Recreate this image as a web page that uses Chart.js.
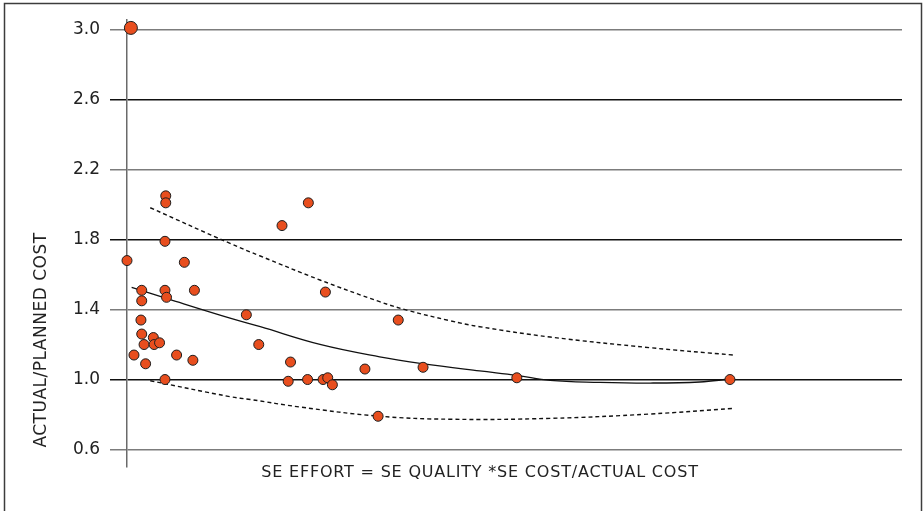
<!DOCTYPE html>
<html>
<head>
<meta charset="utf-8">
<script src="https://cdn.jsdelivr.net/npm/chart.js@4/dist/chart.umd.min.js"></script>
<style>
  html, body { margin: 0; padding: 0; background: #ffffff; }
  #wrap { position: relative; width: 923px; height: 511px; }
</style>
</head>
<body>
<div id="wrap"><canvas id="chart"></canvas></div>
<script>
// SE effort (relative units) and actual/planned cost ratio for each programme
const effortX = [0.5, 5.0, 5.0, 4.9, 0.0, 7.4, 1.9, 4.9, 8.7, 1.9, 5.1, 1.8, 1.9, 3.4, 2.2, 3.5, 4.2,
  0.9, 6.4, 8.5, 2.4, 4.9, 15.4, 17.0, 20.0, 23.4, 25.6, 21.1, 20.8, 23.3, 25.3, 25.9, 26.5,
  30.7, 35.0, 38.2, 50.3, 32.4, 77.8];
const costRatio = [3.01, 2.05, 2.01, 1.79, 1.68, 1.67, 1.51, 1.51, 1.51, 1.45, 1.47, 1.34, 1.26, 1.24, 1.20, 1.20, 1.21,
  1.14, 1.14, 1.11, 1.09, 1.00, 1.37, 1.20, 1.88, 2.01, 1.50, 1.10, 0.99, 1.00, 1.00, 1.01, 0.97,
  1.06, 1.34, 1.07, 1.01, 0.79, 1.00];

// Trend curve and its upper / lower bounds
const fitX = [0.6, 5.5, 13.3, 17.2, 24.9, 32.6, 38.1, 45.5, 50.3, 54.6, 61.0, 67.5, 73.9, 77.8];
const fitY = [1.527, 1.458, 1.351, 1.302, 1.201, 1.130, 1.091, 1.049, 1.024, 0.995, 0.984, 0.980, 0.986, 1.003];
const upperX = [3.0, 13.3, 17.2, 24.9, 32.6, 36.1, 41.7, 45.5, 54.6, 67.5, 78.2];
const upperY = [1.982, 1.778, 1.706, 1.569, 1.445, 1.397, 1.336, 1.302, 1.243, 1.182, 1.140];
const lowerX = [3.0, 13.3, 15.9, 22.3, 32.4, 41.7, 54.6, 67.5, 78.2];
const lowerY = [0.993, 0.902, 0.886, 0.843, 0.791, 0.773, 0.778, 0.803, 0.835];

// Y axis tick values
const yTicks = [0.6, 1.0, 1.4, 1.8, 2.2, 2.6, 3.0];

const yTitle = 'ACTUAL/PLANNED COST';
const xTitle = 'SE EFFORT = SE QUALITY *SE COST/ACTUAL COST';

const toXY = (xs, ys) => xs.map((x, i) => ({ x: x, y: ys[i] }));

const FONT = '"DejaVu Sans", sans-serif';

// Outer frame and the two axis titles
const framePlugin = {
  id: 'frameAndTitles',
  beforeDraw(chart) {
    const ctx = chart.ctx;
    ctx.save();
    ctx.fillStyle = '#ffffff';
    ctx.fillRect(0, 0, chart.width, chart.height);
    ctx.strokeStyle = '#3c3c3c';
    ctx.lineWidth = 1.5;
    ctx.strokeRect(4.5, 3.5, 917, 530);
    ctx.restore();
  },
  afterDraw(chart) {
    const ctx = chart.ctx;
    ctx.save();
    ctx.fillStyle = '#222222';
    ctx.textAlign = 'center';
    ctx.textBaseline = 'middle';
    ctx.font = '16px ' + FONT;
    if ('letterSpacing' in ctx) ctx.letterSpacing = '0.8px';
    ctx.fillText(xTitle, 480, 473);
    ctx.translate(42, 340);
    ctx.rotate(-Math.PI / 2);
    ctx.font = '17px ' + FONT;
    if ('letterSpacing' in ctx) ctx.letterSpacing = '0.5px';
    ctx.fillText(yTitle, 0, 0);
    ctx.restore();
  }
};

new Chart(document.getElementById('chart'), {
  type: 'scatter',
  data: {
    datasets: [
      {
        label: 'Programmes',
        data: toXY(effortX, costRatio),
        backgroundColor: '#e84e1e',
        borderColor: '#1e1e1e',
        borderWidth: 1,
        pointRadius: (c) => (c.dataIndex === 0 ? 6.5 : 5),
        pointHoverRadius: 5,
        clip: false,
        order: 0
      },
      {
        label: 'Trend',
        data: toXY(fitX, fitY),
        showLine: true,
        borderColor: '#111111',
        borderWidth: 1.3,
        pointRadius: 0,
        tension: 0.4,
        order: 1
      },
      {
        label: 'Upper bound',
        data: toXY(upperX, upperY),
        showLine: true,
        borderColor: '#111111',
        borderWidth: 1.4,
        borderDash: [4, 3],
        pointRadius: 0,
        tension: 0.4,
        order: 1
      },
      {
        label: 'Lower bound',
        data: toXY(lowerX, lowerY),
        showLine: true,
        borderColor: '#111111',
        borderWidth: 1.4,
        borderDash: [4, 3],
        pointRadius: 0,
        tension: 0.4,
        order: 1
      }
    ]
  },
  options: {
    responsive: true,
    maintainAspectRatio: false,
    animation: false,
    events: [],
    layout: { padding: { top: 20, right: 21, bottom: 44, left: 0 } },
    plugins: {
      legend: { display: false },
      tooltip: { enabled: false },
      title: { display: false }
    },
    scales: {
      x: {
        type: 'linear',
        min: 0,
        max: 100,
        display: false
      },
      y: {
        type: 'linear',
        min: 0.5,
        max: 3.054,
        afterFit(scale) { scale.width = 127; },
        afterBuildTicks(scale) { scale.ticks = yTicks.map(v => ({ value: v })); },
        border: { display: true, color: '#6a6a6a', width: 1.5 },
        grid: {
          drawTicks: true,
          tickLength: 17,
          color: (c) => (c.index % 2 === 0 ? '#7c7c7c' : '#111111'),
          lineWidth: 1.5
        },
        ticks: {
          padding: 10,
          color: '#222222',
          font: { family: FONT, size: 17 },
          callback: (v) => Number(v).toFixed(1)
        }
      }
    }
  },
  plugins: [framePlugin]
});
</script>
</body>
</html>
